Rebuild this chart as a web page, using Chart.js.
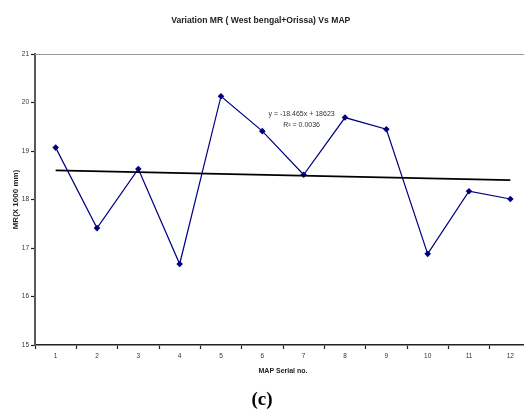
<!DOCTYPE html>
<html lang="en">
<head>
    <meta charset="UTF-8">
    <title>Variation MR ( West bengal+Orissa) Vs MAP</title>
    <script src="https://cdn.jsdelivr.net/npm/chart.js"></script>
    <style>
        html, body {
            margin: 0;
            padding: 0;
            background: #ffffff;
            overflow: hidden;
        }

        .wrap {
            position: relative;
            width: 524px;
            height: 419px;
            overflow: hidden;
        }

        #mrChart {
            position: absolute;
            left: 0;
            top: 0;
        }

        .panel-label {
            position: absolute;
            left: 242px;
            top: 388px;
            width: 40px;
            text-align: center;
            font-family: 'Liberation Serif', 'DejaVu Serif', serif;
            font-weight: bold;
            font-size: 19px;
            color: #000;
        }
    </style>
</head>
<body>
    <div class="wrap">
        <canvas id="mrChart" width="535" height="419"></canvas>
        <div class="panel-label">(c)</div>
    </div>

    <script>
        // MAP serial numbers (x categories)
        const mapSerial = ['1', '2', '3', '4', '5', '6', '7', '8', '9', '10', '11', '12'];

        // MR values (X 1000 mm)
        const mrValues = [19.07, 17.41, 18.63, 16.67, 20.13, 19.41, 18.51, 19.69, 19.45, 16.88, 18.17, 18.01];

        // linear trendline end points (at serial 1 and 12)
        const trendStart = 18.60;
        const trendEnd = 18.40;

        // y axis range
        const yMin = 15;
        const yMax = 21;
        const yStep = 1;

        // trendline label
        const trendLines = ['y = -18.465x + 18623', 'R\u00B2 = 0.0036'];

        const trendData = mapSerial.map(function (s, i) {
            if (i === 0) return trendStart;
            if (i === mapSerial.length - 1) return trendEnd;
            return null;
        });

        const fontFamily = "'Liberation Sans', Arial, sans-serif";

        // plot box: top line + equation text
        const plotExtras = {
            id: 'plotExtras',
            beforeDatasetsDraw(chart) {
                const { ctx, chartArea } = chart;
                ctx.save();
                ctx.strokeStyle = '#9a9a9a';
                ctx.lineWidth = 1;
                ctx.beginPath();
                ctx.moveTo(chartArea.left, chartArea.top + 0.5);
                ctx.lineTo(chartArea.right, chartArea.top + 0.5);
                ctx.stroke();
                ctx.restore();
            },
            afterDatasetsDraw(chart) {
                const { ctx, scales } = chart;
                const x = scales.x.getPixelForValue(5.95);
                const y1 = scales.y.getPixelForValue(19.76);
                const y2 = scales.y.getPixelForValue(19.54);
                ctx.save();
                ctx.fillStyle = '#333';
                ctx.font = '7px ' + fontFamily;
                ctx.textAlign = 'center';
                ctx.textBaseline = 'middle';
                ctx.fillText(trendLines[0], x, y1);
                ctx.fillText(trendLines[1], x, y2);
                ctx.restore();
            }
        };

        new Chart(document.getElementById('mrChart'), {
            type: 'line',
            data: {
                labels: mapSerial,
                datasets: [
                    {
                        label: 'Linear trend',
                        data: trendData,
                        borderColor: '#000000',
                        borderWidth: 1.8,
                        pointRadius: 0,
                        spanGaps: true,
                        tension: 0
                    },
                    {
                        label: 'MR',
                        data: mrValues,
                        borderColor: '#000080',
                        backgroundColor: '#000080',
                        borderWidth: 1.2,
                        pointStyle: 'rectRot',
                        pointRadius: 3.3,
                        pointBorderWidth: 0,
                        tension: 0
                    }
                ]
            },
            options: {
                responsive: false,
                animation: false,
                devicePixelRatio: 1,
                layout: {
                    padding: { left: -11, right: 2.5, top: 0, bottom: 0 }
                },
                plugins: {
                    legend: { display: false },
                    tooltip: { enabled: false },
                    title: {
                        display: true,
                        text: 'Variation MR ( West bengal+Orissa) Vs MAP',
                        color: '#222',
                        font: { family: fontFamily, size: 8.6, weight: 'bold' },
                        padding: { top: 15.8, bottom: 27.9 }
                    }
                },
                scales: {
                    x: {
                        offset: true,
                        grid: {
                            offset: true,
                            drawOnChartArea: false,
                            tickLength: 4,
                            tickColor: '#222',
                            tickWidth: 1.2
                        },
                        border: { color: '#222', width: 1.6 },
                        ticks: {
                            color: '#333',
                            padding: 3,
                            font: { family: fontFamily, size: 6.5 }
                        },
                        title: {
                            display: true,
                            text: 'MAP Serial no.',
                            color: '#222',
                            font: { family: fontFamily, size: 7, weight: 'bold' },
                            padding: { top: 0, bottom: 43.8 }
                        },
                        afterFit(scale) {
                            scale.height = 74;
                        }
                    },
                    y: {
                        min: yMin,
                        max: yMax,
                        grid: {
                            drawOnChartArea: false,
                            tickLength: 4,
                            tickColor: '#222',
                            tickWidth: 1.2
                        },
                        border: { color: '#5a5a5a', width: 2 },
                        ticks: {
                            stepSize: yStep,
                            color: '#333',
                            padding: 2,
                            font: { family: fontFamily, size: 6.5 }
                        },
                        title: {
                            display: true,
                            text: 'MR(X 1000 mm)',
                            color: '#222',
                            font: { family: fontFamily, size: 8, weight: 'bold' },
                            padding: { top: 22, bottom: 0 }
                        },
                        afterFit(scale) {
                            scale.width = 46;
                        }
                    }
                }
            },
            plugins: [plotExtras]
        });
    </script>
</body>
</html>
